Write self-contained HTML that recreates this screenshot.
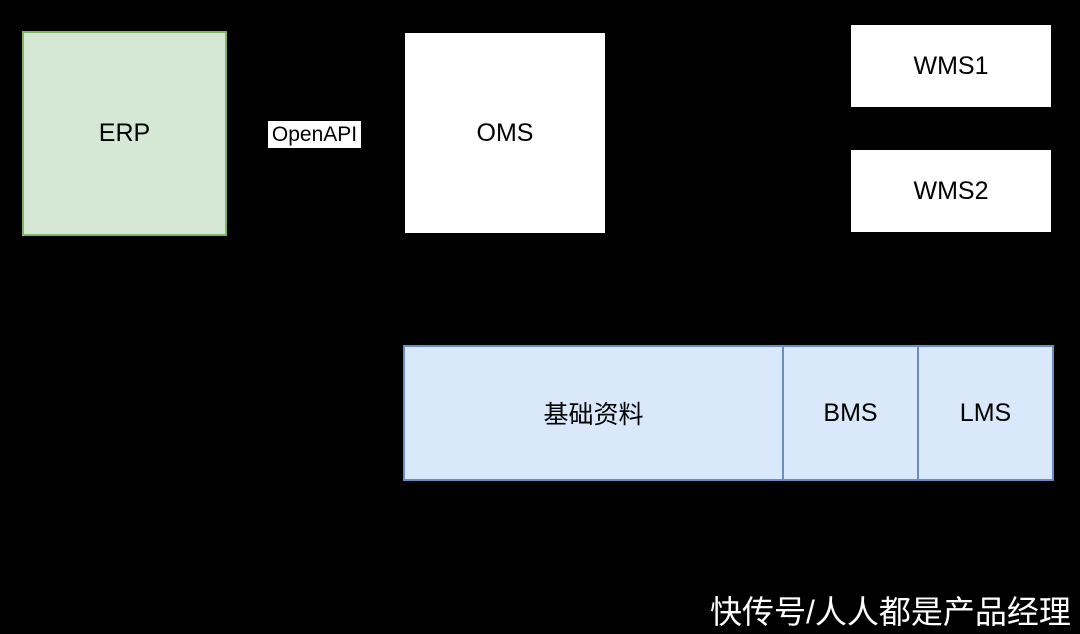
<!DOCTYPE html>
<html><head><meta charset="utf-8"><style>
body{margin:0;width:1080px;height:634px;background:#000;position:relative;overflow:hidden;font-family:"Liberation Sans","Noto Sans CJK SC",sans-serif;}
.b{position:absolute;box-sizing:border-box;display:flex;align-items:center;justify-content:center;font-size:25px;color:#000;}
</style></head><body>
<div class="b" style="left:22px;top:31px;width:205px;height:205px;background:#d5e8d4;border:2px solid #82b366;">ERP</div>
<div class="b" style="left:268px;top:121px;width:93px;height:27px;background:#fff;font-size:21px;">OpenAPI</div>
<div class="b" style="left:405px;top:33px;width:200px;height:200px;background:#fff;">OMS</div>
<div class="b" style="left:851px;top:25px;width:200px;height:82px;background:#fff;">WMS1</div>
<div class="b" style="left:851px;top:150px;width:200px;height:82px;background:#fff;">WMS2</div>
<div class="b" style="left:403px;top:345px;width:381px;height:136px;background:#dae8fc;border:2px solid #6c8ebf;">基础资料</div>
<div class="b" style="left:782px;top:345px;width:137px;height:136px;background:#dae8fc;border:2px solid #6c8ebf;">BMS</div>
<div class="b" style="left:917px;top:345px;width:137px;height:136px;background:#dae8fc;border:2px solid #6c8ebf;">LMS</div>
<div style="position:absolute;left:710px;top:592px;color:#fff;font-size:32px;line-height:40px;white-space:nowrap;">快传号/人人都是产品经理</div>
</body></html>
